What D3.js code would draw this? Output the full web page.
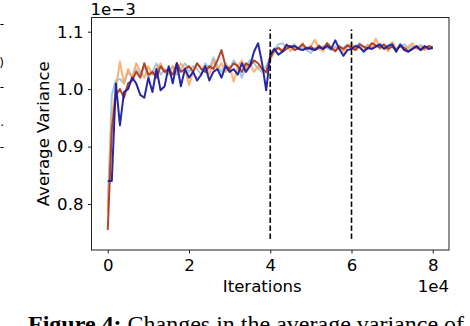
<!DOCTYPE html>
<html>
<head>
<meta charset="utf-8">
<script src="https://cdn.jsdelivr.net/npm/d3@7"></script>
<style>
  body { margin: 0; background: #fff; }
  svg { display: block; }
  text { font-family: "DejaVu Sans", sans-serif; }
</style>
</head>
<body>
<div id="chart"></div>
<script>
// iterations (x) and average variance (in units of 1e-3) for each run
const iterations = [
  0, 1000, 2000, 3000, 4000, 5000, 6000, 7000, 8000, 9000,
  10000, 11000, 12000, 13000, 14000, 15000, 16000, 17000, 18000, 19000,
  20000, 21000, 22000, 23000, 24000, 25000, 26000, 27000, 28000, 29000,
  30000, 31000, 32000, 33000, 34000, 35000, 36000, 37000, 38000, 39000,
  40000, 41000, 42000, 43000, 44000, 45000, 46000, 47000, 48000, 49000,
  50000, 51000, 52000, 53000, 54000, 55000, 56000, 57000, 58000, 59000,
  60000, 61000, 62000, 63000, 64000, 65000, 66000, 67000, 68000, 69000,
  70000, 71000, 72000, 73000, 74000, 75000, 76000, 77000, 78000, 79000,
  80000
];

const lightBlueRun = [
  0.800, 0.990, 1.015, 1.018, 1.010, 1.030, 1.020, 1.035, 1.025, 1.040,
  1.020, 1.030, 1.045, 1.025, 1.035, 1.030, 1.040, 1.025, 1.035, 1.045,
  1.030, 1.040, 1.035, 1.025, 1.045, 1.035, 1.055, 1.040, 1.030, 1.045,
  1.035, 1.050, 1.040, 1.020, 1.040, 1.050, 1.045, 1.035, 1.030, 1.040,
  1.055, 1.070, 1.078, 1.080, 1.072, 1.075, 1.078, 1.070, 1.073, 1.068,
  1.063, 1.072, 1.070, 1.075, 1.072, 1.068, 1.074, 1.070, 1.072, 1.078,
  1.072, 1.075, 1.080, 1.072, 1.076, 1.070, 1.074, 1.079, 1.072, 1.076,
  1.080, 1.070, 1.074, 1.078, 1.071, 1.075, 1.072, 1.077, 1.070, 1.074,
  1.072
];

const orangeRun = [
  0.785, 0.950, 1.000, 1.048, 1.010, 1.035, 1.020, 1.045, 1.030, 1.020,
  1.040, 1.025, 1.035, 1.045, 1.030, 1.025, 1.040, 1.030, 1.045, 1.035,
  1.007, 1.030, 1.045, 1.035, 1.040, 1.025, 1.050, 1.035, 1.045, 1.030,
  1.040, 1.013, 1.040, 1.050, 1.035, 1.045, 1.030, 1.040, 1.035, 1.028,
  1.050, 1.065, 1.072, 1.068, 1.078, 1.066, 1.074, 1.070, 1.080, 1.068,
  1.075, 1.086, 1.070, 1.066, 1.078, 1.072, 1.068, 1.076, 1.065, 1.074,
  1.080, 1.070, 1.072, 1.068, 1.078, 1.072, 1.088, 1.070, 1.075, 1.066,
  1.082, 1.070, 1.076, 1.068, 1.074, 1.080, 1.070, 1.075, 1.068, 1.072,
  1.070
];

const darkRedRun = [
  0.755, 0.930, 0.990, 1.000, 0.985, 1.010, 1.015, 1.030, 1.020, 1.045,
  1.025, 1.030, 1.020, 1.040, 1.030, 1.035, 1.025, 1.045, 1.030, 1.035,
  1.040, 1.030, 1.045, 1.035, 1.030, 1.040, 1.035, 1.050, 1.068, 1.040,
  1.035, 1.045, 1.040, 1.030, 1.045, 1.040, 1.050, 1.045, 1.035, 1.030,
  1.055, 1.068, 1.072, 1.065, 1.070, 1.075, 1.068, 1.072, 1.078, 1.070,
  1.074, 1.068, 1.076, 1.070, 1.080, 1.072, 1.066, 1.074, 1.070, 1.076,
  1.072, 1.068, 1.078, 1.074, 1.070, 1.080, 1.076, 1.072, 1.078, 1.070,
  1.074, 1.068, 1.075, 1.072, 1.066, 1.070, 1.074, 1.068, 1.072, 1.075,
  1.073
];

const navyRun = [
  0.840, 0.840, 1.010, 0.937, 0.995, 1.000, 1.020, 1.010, 0.990, 0.985,
  1.020, 0.995, 1.035, 0.998, 1.005, 1.040, 1.010, 1.045, 1.005, 1.035,
  1.020, 1.030, 1.015, 1.025, 1.040, 1.015, 1.030, 1.035, 1.020, 1.040,
  1.030, 1.035, 1.025, 1.045, 1.030, 1.040, 1.065, 1.080, 1.045, 0.998,
  1.060, 1.070, 1.060, 1.065, 1.077, 1.073, 1.075, 1.070, 1.068, 1.072,
  1.070, 1.068, 1.073, 1.070, 1.075, 1.070, 1.085, 1.070, 1.058, 1.068,
  1.070, 1.075, 1.073, 1.065, 1.072, 1.070, 1.074, 1.078, 1.070, 1.075,
  1.078, 1.065, 1.078, 1.068, 1.065, 1.070, 1.075, 1.068, 1.075, 1.070,
  1.072
];

const runColors = ["#8fc0e2", "#fda35a", "#ad3a22", "#1c1c9e"];
const phaseBreaks = [40000, 60000];
const phaseLineExtent = [0.739, 1.104];
const xTicks = [0, 20000, 40000, 60000, 80000];
const yTicks = [0.8, 0.9, 1.0, 1.1];

document.addEventListener("DOMContentLoaded", function() {
  const width = 470, height = 326;
  const left = 91.5, right = 449, top = 17.5, bottom = 250;
  const fontSize = "16.6px";

  const svg = d3.select("#chart").append("svg")
    .attr("width", width)
    .attr("height", height);

  // scales
  const x = d3.scaleLinear().domain([-4000, 84000]).range([left, right]);
  const y = d3.scaleLinear().domain([0.72, 1.1247]).range([bottom, top]);

  // runs
  const runs = [lightBlueRun, orangeRun, darkRedRun, navyRun];
  const line = d3.line()
    .x((d, i) => x(iterations[i]))
    .y(d => y(d));

  svg.append("defs").append("clipPath").attr("id", "plotclip")
    .append("rect")
    .attr("x", left).attr("y", top)
    .attr("width", right - left).attr("height", bottom - top);

  const plot = svg.append("g").attr("clip-path", "url(#plotclip)");

  plot.selectAll("path.run")
    .data(runs)
    .enter()
    .append("path")
    .attr("class", "run")
    .attr("d", d => line(d))
    .attr("fill", "none")
    .attr("stroke", (d, i) => runColors[i])
    .attr("stroke-width", 2)
    .attr("stroke-linejoin", "round")
    .attr("opacity", (d, i) => i < 2 ? 0.85 : 0.95);

  // phase change markers
  plot.selectAll("line.phase")
    .data(phaseBreaks)
    .enter()
    .append("line")
    .attr("x1", d => x(d)).attr("x2", d => x(d))
    .attr("y1", y(phaseLineExtent[0])).attr("y2", y(phaseLineExtent[1]))
    .attr("stroke", "#000")
    .attr("stroke-width", 1.6)
    .attr("stroke-dasharray", "5.6,2.4");

  // axes
  const xAxis = d3.axisBottom(x)
    .tickValues(xTicks)
    .tickFormat(d => d3.format("d")(d / 10000))
    .tickSize(3.5)
    .tickPadding(5.5);
  const gx = svg.append("g")
    .attr("transform", `translate(0,${bottom})`)
    .call(xAxis);

  const yAxis = d3.axisLeft(y)
    .tickValues(yTicks)
    .tickFormat(d3.format(".1f"))
    .tickSize(3.5)
    .tickPadding(4.5);
  const gy = svg.append("g")
    .attr("transform", `translate(${left},0)`)
    .call(yAxis);

  [gx, gy].forEach(g => {
    g.select(".domain").remove();
    g.selectAll("text")
      .attr("fill", "#000")
      .style("font-family", "DejaVu Sans")
      .style("font-size", fontSize);
    g.selectAll("line").attr("stroke", "#000").attr("stroke-width", 0.9);
  });

  // frame
  svg.append("rect")
    .attr("x", left).attr("y", top)
    .attr("width", right - left).attr("height", bottom - top)
    .attr("fill", "none")
    .attr("stroke", "#222")
    .attr("stroke-width", 1);

  // labels
  svg.append("text")
    .attr("x", (left + right) / 2 - 8)
    .attr("y", 292)
    .attr("text-anchor", "middle")
    .style("font-size", fontSize)
    .text("Iterations");

  svg.append("text")
    .attr("x", right)
    .attr("y", 292)
    .attr("text-anchor", "end")
    .style("font-size", fontSize)
    .text("1e4");

  svg.append("text")
    .attr("transform", `translate(48.5,${(top + bottom) / 2}) rotate(-90)`)
    .attr("text-anchor", "middle")
    .style("font-size", fontSize)
    .text("Average Variance");

  svg.append("text")
    .attr("x", left - 1)
    .attr("y", 14.5)
    .style("font-size", fontSize)
    .text("1e\u22123");

  // fragments of the neighbouring column, cut by the page edge
  const fragments = [["-", 28], [")", 67], ["-", 91], [".", 126], ["-", 151]];
  svg.selectAll("text.frag")
    .data(fragments)
    .enter()
    .append("text")
    .attr("class", "frag")
    .attr("x", 4)
    .attr("y", d => d[1])
    .attr("text-anchor", "end")
    .style("font-size", "12px")
    .text(d => d[0]);

  // caption, partly below the visible area
  const caption = svg.append("text")
    .attr("x", 28)
    .attr("y", 332)
    .style("font-family", "Liberation Serif, serif")
    .style("font-size", "24px");
  caption.append("tspan").style("font-weight", "bold").text("Figure 4:");
  caption.append("tspan").text(" Changes in the average variance of");
});
</script>
</body>
</html>
